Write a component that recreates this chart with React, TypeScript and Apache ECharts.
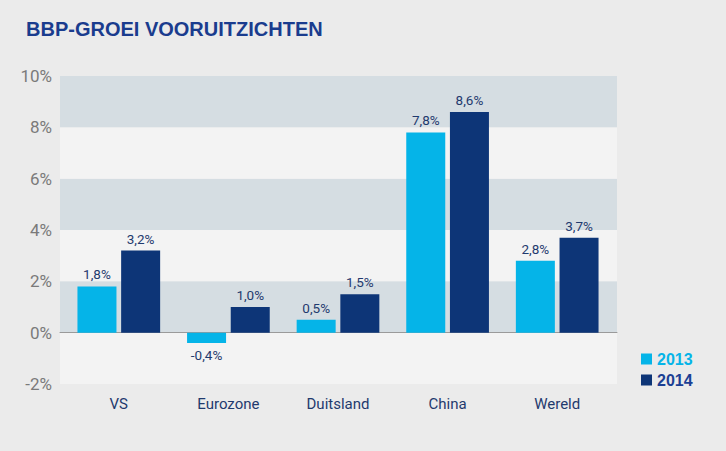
import React, { useEffect, useRef } from "react";
import * as echarts from "echarts";

const categories = ["VS", "Eurozone", "Duitsland", "China", "Wereld"];
const values2013 = [1.8, -0.4, 0.5, 7.8, 2.8];
const values2014 = [3.2, 1.0, 1.5, 8.6, 3.7];
const seriesNames = ["2013", "2014"];
const yMin = -2;
const yMax = 10;
const yInterval = 2;

const CYAN = "#05b4e8";
const NAVY = "#0d3577";
const LABEL_NAVY = "#1f3a6e";
const NARROW = "Roboto, 'DejaVu Sans Condensed', sans-serif";

const fmt = (v: number) => v.toFixed(1).replace(".", ",") + "%";

const toItems = (arr: number[]) =>
  arr.map((v) => ({
    value: v,
    label: { position: v < 0 ? "bottom" : "top" },
  }));

export default function App() {
  const ref = useRef<HTMLDivElement>(null);
  useEffect(() => {
    if (!ref.current) return;
    const chart = echarts.init(ref.current, null, { renderer: "svg" });
    const barLabel = {
      show: true,
      distance: 5,
      formatter: (p: any) => fmt(p.value),
      color: LABEL_NAVY,
      fontSize: 13.5,
      fontFamily: NARROW,
    };
    chart.setOption({
      animation: false,
      backgroundColor: "#ebebeb",
      title: {
        text: "BBP-GROEI VOORUITZICHTEN",
        left: 21,
        top: 14,
        textStyle: {
          color: "#1a3c8e",
          fontSize: 20,
          fontWeight: "bold",
          fontFamily: "'Liberation Sans', Arial, sans-serif",
        },
      },
      legend: {
        orient: "vertical",
        left: 636,
        top: 346,
        icon: "rect",
        itemWidth: 11,
        itemHeight: 11,
        itemGap: 5,
        textStyle: {
          fontSize: 16,
          fontWeight: "bold",
          fontFamily: "'Liberation Sans', Arial, sans-serif",
        },
        data: [
          { name: seriesNames[0], textStyle: { color: CYAN } },
          { name: seriesNames[1], textStyle: { color: "#1b3f94" } },
        ],
      },
      grid: [
        { left: 60, width: 557, top: 76, height: 308 },
        { left: 64, width: 548, top: 76, height: 308 },
      ],
      xAxis: [
        {
          type: "category",
          gridIndex: 0,
          data: [""],
          axisLine: { show: true, onZero: true, lineStyle: { color: "#9a9a9a", width: 1 } },
          axisTick: { show: false },
          axisLabel: { show: false },
          splitLine: { show: false },
        },
        {
          type: "category",
          gridIndex: 1,
          data: categories,
          axisLine: { show: false, onZero: false },
          axisTick: { show: false },
          axisLabel: {
            margin: 12,
            color: LABEL_NAVY,
            fontSize: 15,
            fontFamily: NARROW,
          },
        },
      ],
      yAxis: [
        {
          type: "value",
          gridIndex: 0,
          min: yMin,
          max: yMax,
          interval: yInterval,
          axisLine: { show: false },
          axisTick: { show: false },
          splitLine: { show: false },
          splitArea: { show: true, areaStyle: { color: ["#f3f3f3", "#d5dde2"] } },
          axisLabel: {
            margin: 8,
            color: "#7a7a7a",
            fontSize: 17,
            fontFamily: NARROW,
            formatter: (v: number) => v + "%",
          },
        },
        {
          type: "value",
          gridIndex: 1,
          min: yMin,
          max: yMax,
          interval: yInterval,
          show: false,
          splitLine: { show: false },
        },
      ],
      series: [
        {
          name: seriesNames[0],
          type: "bar",
          xAxisIndex: 1,
          yAxisIndex: 1,
          data: toItems(values2013),
          barWidth: 39,
          barGap: "12%",
          itemStyle: { color: CYAN },
          label: barLabel,
        },
        {
          name: seriesNames[1],
          type: "bar",
          xAxisIndex: 1,
          yAxisIndex: 1,
          data: toItems(values2014),
          barWidth: 39,
          barGap: "12%",
          itemStyle: { color: NAVY },
          label: barLabel,
        },
      ],
    });
    return () => chart.dispose();
  }, []);
  return (
    <div
      ref={ref}
      style={{ position: "fixed", left: 0, top: 0, width: 726, height: 451 }}
    />
  );
}
